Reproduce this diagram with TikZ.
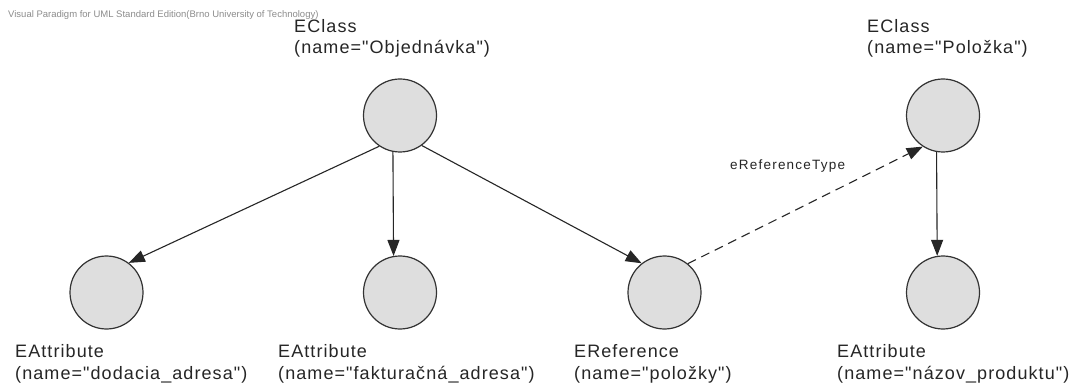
\documentclass[tikz,border=0pt]{standalone}
\usepackage{fontspec}
\setmainfont{Liberation Sans}
\usetikzlibrary{arrows.meta}
\newfontfamily\lblfont[LetterSpace=6]{Liberation Sans}
\newfontfamily\edgefont[LetterSpace=9]{Liberation Sans}
\definecolor{circfill}{HTML}{DEDEDE}
\definecolor{linecol}{HTML}{333333}
\definecolor{wmcol}{HTML}{8C8C8C}
\tikzset{
  obj/.style={circle, draw=linecol, line width=1.2pt, fill=circfill, minimum size=73pt, inner sep=0pt},
  lbl/.style={anchor=base west, inner sep=0pt, align=left, font=\lblfont\fontsize{18}{21.5}\selectfont, text=black!85},
  conn/.style={draw=black!85, line width=1.1pt, -{Triangle[length=16pt,width=12pt]}},
  refconn/.style={conn, dash pattern=on 9pt off 6pt},
  edgelbl/.style={anchor=base west, inner sep=0pt, font=\edgefont\fontsize{13.5}{16}\selectfont, text=black!85},
  wm/.style={anchor=base west, inner sep=0pt, font=\fontsize{9.5}{11}\selectfont, text=wmcol}
}
\begin{document}
\begin{tikzpicture}[x=1pt,y=-1pt]
\useasboundingbox[fill=white] (0,0) rectangle (1086,387);
\node[wm] (wm) at (8,18) {Visual Paradigm for UML Standard Edition(Brno University of Technology)};
% circles
\node[obj] (obj) at (400,115.5) {};
\node[obj] (pol) at (943,115.5) {};
\node[obj] (dod) at (106.5,292.5) {};
\node[obj] (fak) at (400,292.5) {};
\node[obj] (ref) at (664.5,292.5) {};
\node[obj] (naz) at (943,292.5) {};
% labels (base = baseline of the last line)
\node[lbl] (objl) at (294,54) {EClass\\(name="Objednávka")};
\node[lbl] (poll) at (867,54) {EClass\\(name="Položka")};
\node[lbl] (dodl) at (15,379) {EAttribute\\(name="dodacia\_adresa")};
\node[lbl] (fakl) at (278,379) {EAttribute\\(name="fakturačná\_adresa")};
\node[lbl] (refl) at (574,379) {EReference\\(name="položky")};
\node[lbl] (nazl) at (837,379) {EAttribute\\(name="názov\_produktu")};
% connectors
\draw[conn] (obj.236) -- (dod.53);
\draw[conn] (obj.259.4) -- (fak.100.6);
\draw[conn] (obj.306.7) -- (ref.128.7);
\draw[conn] (pol.260.5) -- (naz.99.5);
\draw[refconn] (ref.51.4) -- (pol.237);
\node[edgelbl] (rt) at (730,170) {eReferenceType};
\end{tikzpicture}
\end{document}
